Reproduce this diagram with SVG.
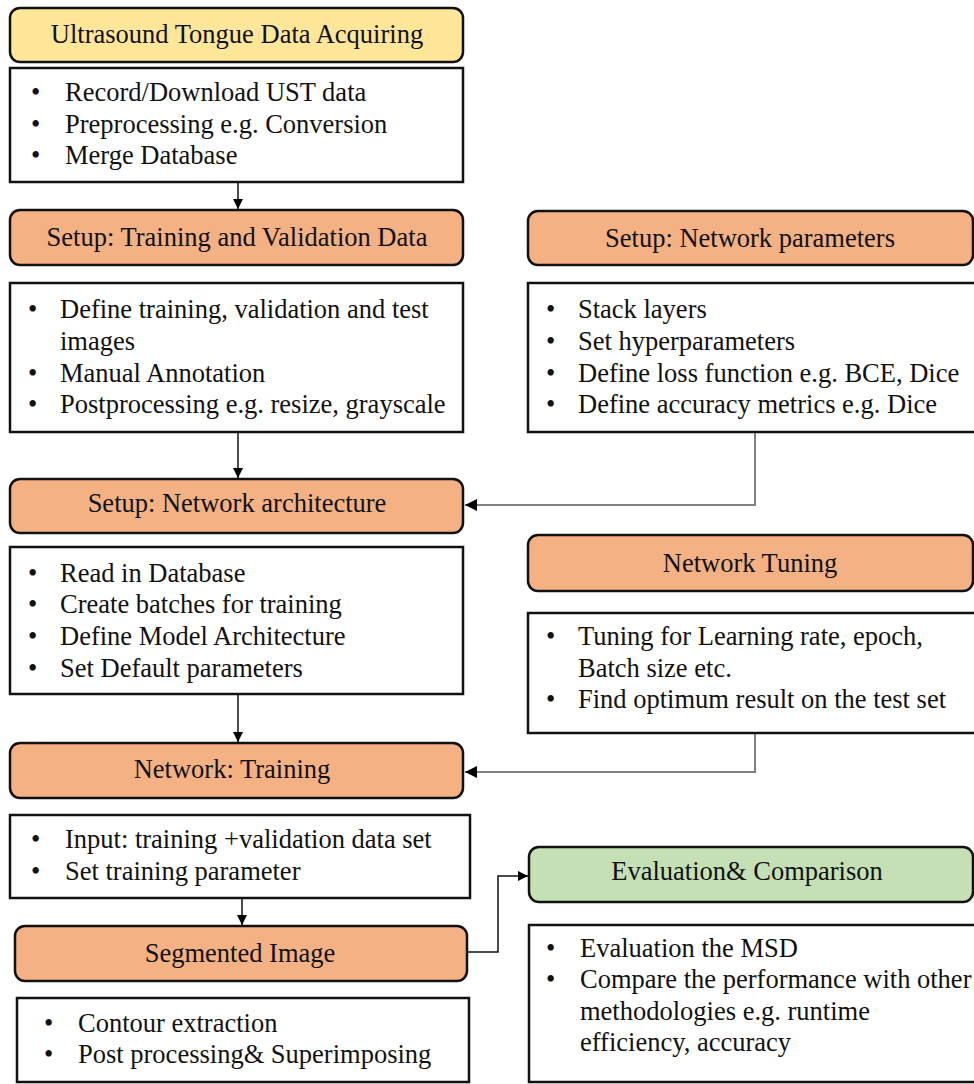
<svg xmlns="http://www.w3.org/2000/svg" width="974" height="1084" viewBox="0 0 974 1084">
  <style>
    text { font-family: "Liberation Serif", "Times New Roman", serif; font-size: 26.5px; fill: #111; }
    .hdr { stroke: #111; stroke-width: 2.5; }
    .yellow { fill: #FFE699; }
    .orange { fill: #F4B183; }
    .green { fill: #C5E0B4; }
    .body { fill: #fff; stroke: #111; stroke-width: 2.5; }
    .ttl { text-anchor: middle; }
    .down { stroke: #111; stroke-width: 1.5; fill: none; }
    .side { stroke: #808080; stroke-width: 2; fill: none; }
  </style>
  <defs>
    <marker id="arrow" viewBox="0 0 10 10" refX="10" refY="5" markerWidth="10" markerHeight="10" markerUnits="userSpaceOnUse" orient="auto">
      <path d="M0,0 L10,5 L0,10 Z" fill="#000"/>
    </marker>
    <marker id="arrowL" viewBox="0 0 12 12" refX="12" refY="6" markerWidth="12" markerHeight="12" markerUnits="userSpaceOnUse" orient="auto">
      <path d="M0,0 L12,6 L0,12 Z" fill="#000"/>
    </marker>
  </defs>

  <!-- connectors -->
  <g id="connectors">
    <line class="down" x1="238" y1="182" x2="238" y2="209" marker-end="url(#arrow)"/>
    <line class="down" x1="238" y1="432" x2="238" y2="478" marker-end="url(#arrow)"/>
    <line class="down" x1="238" y1="694" x2="238" y2="742" marker-end="url(#arrow)"/>
    <line class="down" x1="242" y1="898" x2="242" y2="925" marker-end="url(#arrow)"/>
    <polyline class="side" points="755,432 755,505 465,505" marker-end="url(#arrowL)"/>
    <polyline class="side" points="755,733 755,772 465,772" marker-end="url(#arrowL)"/>
    <polyline class="down" points="467,952 498,952 498,876 528,876" marker-end="url(#arrow)"/>
  </g>

  <!-- Ultrasound Tongue Data Acquiring -->
  <g id="acquire">
    <rect class="hdr yellow" x="10" y="8" width="453" height="54" rx="10"/>
    <text class="ttl" x="237" y="43">Ultrasound Tongue Data Acquiring</text>
  </g>
  <g id="acquire-steps">
    <rect class="body" x="10" y="68" width="453" height="114"/>
    <text x="31" y="101">•</text><text x="65" y="101">Record/Download UST data</text>
    <text x="31" y="133">•</text><text x="65" y="133">Preprocessing e.g. Conversion</text>
    <text x="31" y="164">•</text><text x="65" y="164">Merge Database</text>
  </g>

  <!-- Setup: Training and Validation Data -->
  <g id="setup-data">
    <rect class="hdr orange" x="10" y="210" width="453" height="55" rx="10"/>
    <text class="ttl" x="237" y="246">Setup: Training and Validation Data</text>
  </g>
  <g id="setup-data-steps">
    <rect class="body" x="10" y="283" width="453" height="149"/>
    <text x="28" y="318">•</text><text x="60" y="318">Define training, validation and test</text>
    <text x="60" y="350">images</text>
    <text x="28" y="382">•</text><text x="60" y="382">Manual Annotation</text>
    <text x="28" y="413">•</text><text x="60" y="413">Postprocessing e.g. resize, grayscale</text>
  </g>

  <!-- Setup: Network parameters -->
  <g id="setup-params">
    <rect class="hdr orange" x="528" y="211" width="445" height="54" rx="10"/>
    <text class="ttl" x="750" y="247">Setup: Network parameters</text>
  </g>
  <g id="setup-params-steps">
    <rect class="body" x="528" y="283" width="450" height="149"/>
    <text x="546" y="318">•</text><text x="578" y="318">Stack layers</text>
    <text x="546" y="350">•</text><text x="578" y="350">Set hyperparameters</text>
    <text x="546" y="382">•</text><text x="578" y="382">Define loss function e.g. BCE, Dice</text>
    <text x="546" y="413">•</text><text x="578" y="413">Define accuracy metrics e.g. Dice</text>
  </g>

  <!-- Setup: Network architecture -->
  <g id="setup-arch">
    <rect class="hdr orange" x="10" y="479" width="453" height="54" rx="10"/>
    <text class="ttl" x="237" y="512">Setup: Network architecture</text>
  </g>
  <g id="setup-arch-steps">
    <rect class="body" x="10" y="547" width="453" height="147"/>
    <text x="28" y="582">•</text><text x="60" y="582">Read in Database</text>
    <text x="28" y="613">•</text><text x="60" y="613">Create batches for training</text>
    <text x="28" y="645">•</text><text x="60" y="645">Define Model Architecture</text>
    <text x="28" y="677">•</text><text x="60" y="677">Set Default parameters</text>
  </g>

  <!-- Network Tuning -->
  <g id="tuning">
    <rect class="hdr orange" x="528" y="535" width="445" height="56" rx="10"/>
    <text class="ttl" x="750" y="572">Network Tuning</text>
  </g>
  <g id="tuning-steps">
    <rect class="body" x="528" y="613" width="450" height="120"/>
    <text x="546" y="645">•</text><text x="578" y="645">Tuning for Learning rate, epoch,</text>
    <text x="578" y="677">Batch size etc.</text>
    <text x="546" y="708">•</text><text x="578" y="708">Find optimum result on the test set</text>
  </g>

  <!-- Network: Training -->
  <g id="training">
    <rect class="hdr orange" x="10" y="743" width="453" height="55" rx="10"/>
    <text class="ttl" x="232" y="778">Network: Training</text>
  </g>
  <g id="training-steps">
    <rect class="body" x="10" y="815" width="460" height="83"/>
    <text x="31" y="848">•</text><text x="65" y="848">Input: training +validation data set</text>
    <text x="31" y="880">•</text><text x="65" y="880">Set training parameter</text>
  </g>

  <!-- Segmented Image -->
  <g id="segmented">
    <rect class="hdr orange" x="15" y="926" width="452" height="55" rx="10"/>
    <text class="ttl" x="240" y="962">Segmented Image</text>
  </g>
  <g id="segmented-steps">
    <rect class="body" x="17" y="998" width="452" height="84"/>
    <text x="44" y="1032">•</text><text x="78" y="1032">Contour extraction</text>
    <text x="44" y="1063">•</text><text x="78" y="1063">Post processing&amp; Superimposing</text>
  </g>

  <!-- Evaluation & Comparison -->
  <g id="evaluation">
    <rect class="hdr green" x="529" y="847" width="444" height="55" rx="10"/>
    <text class="ttl" x="747" y="880">Evaluation&amp; Comparison</text>
  </g>
  <g id="evaluation-steps">
    <rect class="body" x="529" y="925" width="450" height="157"/>
    <text x="546" y="957">•</text><text x="580" y="957">Evaluation the MSD</text>
    <text x="546" y="988">•</text><text x="580" y="988">Compare the performance with other</text>
    <text x="580" y="1020">methodologies e.g. runtime</text>
    <text x="580" y="1051">efficiency, accuracy</text>
  </g>
</svg>
